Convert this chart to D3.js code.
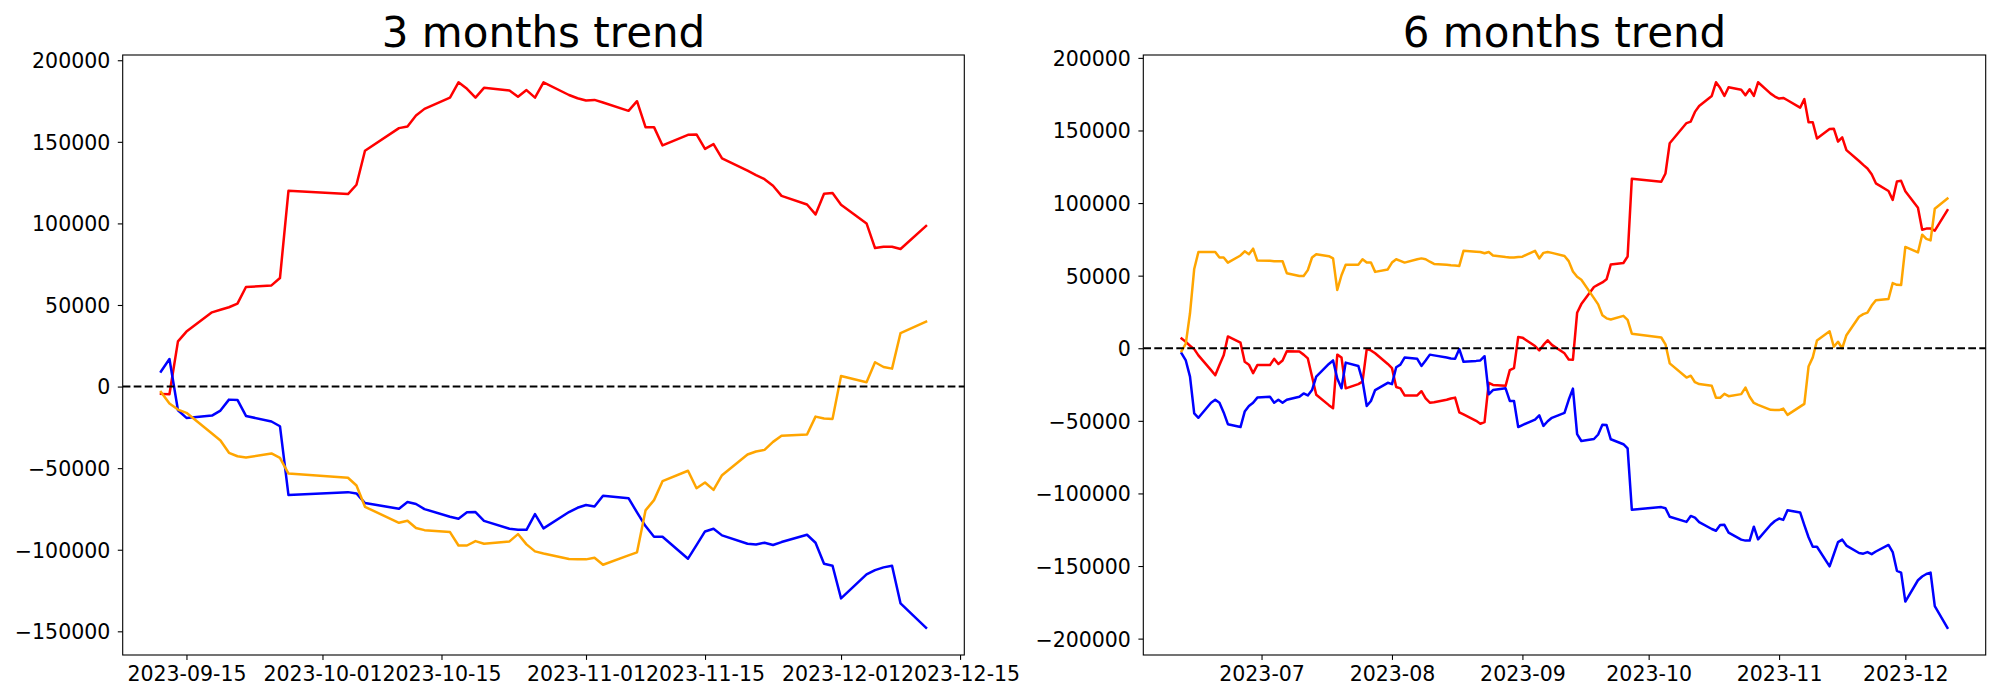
<!DOCTYPE html>
<html>
<head>
<meta charset="utf-8">
<script src="https://cdn.jsdelivr.net/npm/d3@7"></script>
<style>
  html, body { margin: 0; padding: 0; background: #ffffff; }
  svg { display: block; }
  text { font-family: "DejaVu Sans", sans-serif; fill: #000; }
</style>
</head>
<body>
<svg id="chart" width="2000" height="700"></svg>
<script>
// ---------------- DATA ----------------
const titles = ["3 months trend", "6 months trend"];

// 3 months panel
const dates3 = ["2023-09-12","2023-09-13","2023-09-14","2023-09-15","2023-09-18","2023-09-19","2023-09-20","2023-09-21","2023-09-22","2023-09-25","2023-09-26","2023-09-27","2023-10-04","2023-10-05","2023-10-06","2023-10-10","2023-10-11","2023-10-12","2023-10-13","2023-10-16","2023-10-17","2023-10-18","2023-10-19","2023-10-20","2023-10-23","2023-10-24","2023-10-25","2023-10-26","2023-10-27","2023-10-30","2023-10-31","2023-11-01","2023-11-02","2023-11-03","2023-11-06","2023-11-07","2023-11-08","2023-11-09","2023-11-10","2023-11-13","2023-11-14","2023-11-15","2023-11-16","2023-11-17","2023-11-20","2023-11-21","2023-11-22","2023-11-23","2023-11-24","2023-11-27","2023-11-28","2023-11-29","2023-11-30","2023-12-01","2023-12-04","2023-12-05","2023-12-06","2023-12-07","2023-12-08","2023-12-11"];
const red3 = [-4500,-4700,27700,33700,45500,47100,48600,50800,61000,62000,66500,120000,118000,123700,144500,158400,159400,166100,170200,177100,186500,182500,177100,183100,181400,177600,181700,177100,186500,178700,176700,175300,175700,174100,169000,174900,159000,159000,147800,154300,154500,145700,148600,139800,132300,129600,127100,123100,116900,111600,105500,118200,118600,111400,100000,84900,85700,85700,84300,98400];
const blue3 = [9200,16900,-14500,-19200,-17800,-14700,-8000,-8200,-18000,-21400,-24300,-66500,-64700,-65500,-71400,-74900,-70800,-72000,-75100,-79800,-81000,-77100,-76900,-82300,-87100,-87800,-87800,-78200,-86900,-76900,-74300,-72600,-73500,-66900,-68400,-77100,-85500,-92000,-92000,-105500,-97200,-88800,-87100,-91200,-96300,-96800,-95700,-97100,-95300,-90800,-95700,-108600,-109800,-129800,-115100,-112500,-110800,-109800,-132900,-147800];
const orange3 = [-3300,-10400,-14100,-16100,-28800,-33100,-40600,-42700,-43500,-41000,-43700,-53300,-55900,-60600,-73700,-83500,-82200,-86700,-88000,-89200,-97400,-97400,-94700,-96300,-94900,-90400,-96700,-101000,-102300,-105700,-105800,-105900,-104900,-109200,-103500,-101600,-75900,-69600,-58000,-51600,-62300,-58800,-63300,-54300,-41600,-39800,-38800,-33900,-30200,-29400,-18400,-19600,-19800,6500,2700,14900,12000,11000,32800,39800];

// 6 months panel
const dates6 = ["2023-06-12","2023-06-13","2023-06-14","2023-06-15","2023-06-16","2023-06-19","2023-06-20","2023-06-21","2023-06-22","2023-06-23","2023-06-26","2023-06-27","2023-06-28","2023-06-29","2023-06-30","2023-07-03","2023-07-04","2023-07-05","2023-07-06","2023-07-07","2023-07-10","2023-07-11","2023-07-12","2023-07-13","2023-07-14","2023-07-17","2023-07-18","2023-07-19","2023-07-20","2023-07-21","2023-07-24","2023-07-25","2023-07-26","2023-07-27","2023-07-28","2023-07-31","2023-08-01","2023-08-02","2023-08-03","2023-08-04","2023-08-07","2023-08-08","2023-08-09","2023-08-10","2023-08-11","2023-08-14","2023-08-15","2023-08-16","2023-08-17","2023-08-18","2023-08-21","2023-08-22","2023-08-23","2023-08-24","2023-08-25","2023-08-28","2023-08-29","2023-08-30","2023-08-31","2023-09-01","2023-09-04","2023-09-05","2023-09-06","2023-09-07","2023-09-08","2023-09-11",
"2023-09-12","2023-09-13","2023-09-14","2023-09-15","2023-09-18","2023-09-19","2023-09-20","2023-09-21","2023-09-22","2023-09-25","2023-09-26","2023-09-27","2023-10-04","2023-10-05","2023-10-06","2023-10-10","2023-10-11","2023-10-12","2023-10-13","2023-10-16","2023-10-17","2023-10-18","2023-10-19","2023-10-20","2023-10-23","2023-10-24","2023-10-25","2023-10-26","2023-10-27","2023-10-30","2023-10-31","2023-11-01","2023-11-02","2023-11-03","2023-11-06","2023-11-07","2023-11-08","2023-11-09","2023-11-10","2023-11-13","2023-11-14","2023-11-15","2023-11-16","2023-11-17","2023-11-20","2023-11-21","2023-11-22","2023-11-23","2023-11-24","2023-11-27","2023-11-28","2023-11-29","2023-11-30","2023-12-01","2023-12-04","2023-12-05","2023-12-06","2023-12-07","2023-12-08","2023-12-11"];
const red6 = [6700,4400,1700,-600,-4900,-15100,-18600,-11600,-4900,8100,3800,-9300,-11300,-17100,-11600,-11600,-7300,-10800,-8400,-2000,-2300,-4400,-7000,-19500,-32000,-39200,-41300,-4400,-6400,-27600,-24700,-23000,-600,-1500,-3500,-10800,-13700,-26700,-27600,-32500,-32500,-29600,-34600,-37500,-37200,-35500,-34600,-34000,-44200,-45600,-50000,-52000,-50900,-23800,-25300,-25900,-15100,-13700,7800,7300,1500,-1500,2300,5500,2300,-3500,
-7800,-8000,24400,30400,42200,43800,45300,47500,57700,58700,63200,116700,114700,120400,141200,155100,156100,162800,166900,173800,183200,179200,173800,179800,178100,174300,178400,173800,183200,175400,173400,172000,172400,170800,165700,171600,155700,155700,144500,151000,151200,142400,145300,136500,129000,126300,123800,119800,113600,108300,102200,114900,115300,108100,96700,81600,82400,82400,81000,95100];
const blue6 = [-3500,-8400,-19500,-44800,-47900,-37500,-35500,-37500,-44200,-52300,-54300,-43600,-39800,-37500,-34000,-33400,-37500,-35500,-37500,-35500,-33400,-31100,-32500,-28800,-19500,-10800,-8400,-20900,-27600,-9900,-12200,-22400,-39800,-36300,-28800,-23800,-24700,-13100,-11300,-6400,-7300,-12200,-8400,-4400,-4900,-6400,-7000,-7300,-600,-9300,-8700,-8400,-5500,-31700,-28800,-27600,-36300,-36300,-54300,-52900,-49100,-46200,-53500,-50300,-47900,-44500,
-35500,-27800,-59200,-63900,-62500,-59400,-52700,-52900,-62700,-66100,-69000,-111200,-109400,-110200,-116100,-119600,-115500,-116700,-119800,-124500,-125700,-121800,-121600,-127000,-131800,-132500,-132500,-122900,-131600,-121600,-119000,-117300,-118200,-111600,-113100,-121800,-130200,-136700,-136700,-150200,-141900,-133500,-131800,-135900,-141000,-141500,-140400,-141800,-140000,-135500,-140400,-153300,-154500,-174500,-159800,-157200,-155500,-154500,-177600,-192500];
const orange6 = [-2000,3200,24100,54600,66300,66300,66300,62500,62500,59000,63900,66800,64800,68600,60400,60200,59900,59900,59900,51700,49700,49700,53800,62500,64800,63400,61900,40100,50300,57500,57500,61300,59000,59000,52600,54300,59000,61300,60200,59000,61300,61900,61300,59600,58100,57500,57200,57000,56700,67100,66500,66300,65400,66300,63900,62800,62500,62500,62800,63100,67100,61900,65700,66300,65700,63600,
60000,52900,49200,47200,34500,30200,22700,20600,19800,22300,19600,10000,7400,2700,-10400,-20200,-18900,-23400,-24700,-25900,-34100,-34100,-31400,-33000,-31600,-27100,-33400,-37700,-39000,-42400,-42500,-42600,-41600,-45900,-40200,-38300,-12600,-6300,5300,11700,1000,4500,0,9000,21700,23500,24500,29400,33100,33900,44900,43700,43500,69800,66000,78200,75300,74300,96100,103100];

// tick positions / labels
const xTicks3 = ["2023-09-15","2023-10-01","2023-10-15","2023-11-01","2023-11-15","2023-12-01","2023-12-15"];
const xTickLabels3 = ["2023-09-15","2023-10-01","2023-10-15","2023-11-01","2023-11-15","2023-12-01","2023-12-15"];
const xTicks6 = ["2023-07-01","2023-08-01","2023-09-01","2023-10-01","2023-11-01","2023-12-01"];
const xTickLabels6 = ["2023-07","2023-08","2023-09","2023-10","2023-11","2023-12"];
const yTicks3 = [-150000,-100000,-50000,0,50000,100000,150000,200000];
const yTicks6 = [-200000,-150000,-100000,-50000,0,50000,100000,150000,200000];

const seriesColors = ["red", "blue", "orange"];

// ---------------- DRAW ----------------
const parse = d3.utcParse("%Y-%m-%d");
const svg = d3.select("#chart");
svg.append("rect").attr("width", 2000).attr("height", 700).attr("fill", "#fff");

const fmtY = v => v < 0 ? "\u2212" + Math.abs(v) : String(v);

function panel(opt) {
  const {left, right, top, bottom, title, dates, series, xTicks, xLabels, yTicks} = opt;
  const g = svg.append("g");
  const ds = dates.map(parse);
  const x0 = d3.min(ds), x1 = d3.max(ds);
  const span = x1 - x0;
  const x = d3.scaleUtc()
    .domain([new Date(+x0 - span * 0.05), new Date(+x1 + span * 0.05)])
    .range([left, right]);
  const all = series.flat();
  const ymin = d3.min(all), ymax = d3.max(all);
  const yr = ymax - ymin;
  const y = d3.scaleLinear()
    .domain([ymin - yr * 0.05, ymax + yr * 0.05])
    .range([bottom, top]);

  // data lines
  series.forEach((vals, i) => {
    const line = d3.line().x((d, j) => x(ds[j])).y(d => y(d));
    g.append("path").datum(vals)
      .attr("d", line)
      .attr("fill", "none")
      .attr("stroke", seriesColors[i])
      .attr("stroke-width", 2.5)
      .attr("stroke-linejoin", "round")
      .attr("stroke-linecap", "square");
  });

  // zero dashed line
  g.append("line")
    .attr("x1", left).attr("x2", right)
    .attr("y1", y(0)).attr("y2", y(0))
    .attr("stroke", "#000").attr("stroke-width", 2.1)
    .attr("stroke-dasharray", "7.7,3.3");

  // axes
  const xAxis = d3.axisBottom(x)
    .tickValues(xTicks.map(parse))
    .tickSize(4.9).tickPadding(5)
    .tickFormat((d, i) => xLabels[i]);
  const gx = g.append("g").attr("transform", `translate(0,${bottom})`).call(xAxis);
  gx.select(".domain").remove();
  gx.selectAll(".tick line").attr("stroke", "#000").attr("stroke-width", 1.1);
  gx.selectAll(".tick text")
    .attr("font-family", "DejaVu Sans").attr("font-size", "20.5px")
    .attr("fill", "#000").attr("dy", null).attr("y", 25.7);

  const yAxis = d3.axisLeft(y)
    .tickValues(yTicks).tickSize(4.9).tickPadding(7.5)
    .tickFormat(fmtY);
  const gy = g.append("g").attr("transform", `translate(${left},0)`).call(yAxis);
  gy.select(".domain").remove();
  gy.selectAll(".tick line").attr("stroke", "#000").attr("stroke-width", 1.1);
  gy.selectAll(".tick text")
    .attr("font-family", "DejaVu Sans").attr("font-size", "20.5px")
    .attr("fill", "#000").attr("dy", "0.36em");

  // frame
  g.append("rect")
    .attr("x", left).attr("y", top)
    .attr("width", right - left).attr("height", bottom - top)
    .attr("fill", "none").attr("stroke", "#000").attr("stroke-width", 1.1);

  // title
  g.append("text")
    .attr("x", (left + right) / 2).attr("y", top - 8.3)
    .attr("text-anchor", "middle")
    .attr("font-family", "DejaVu Sans").attr("font-size", "42px")
    .text(title);
}

panel({left: 122.7, right: 964.3, top: 55, bottom: 655, title: titles[0],
  dates: dates3, series: [red3, blue3, orange3],
  xTicks: xTicks3, xLabels: xTickLabels3, yTicks: yTicks3});
panel({left: 1143.3, right: 1985.7, top: 55, bottom: 655, title: titles[1],
  dates: dates6, series: [red6, blue6, orange6],
  xTicks: xTicks6, xLabels: xTickLabels6, yTicks: yTicks6});
</script>
</body>
</html>
